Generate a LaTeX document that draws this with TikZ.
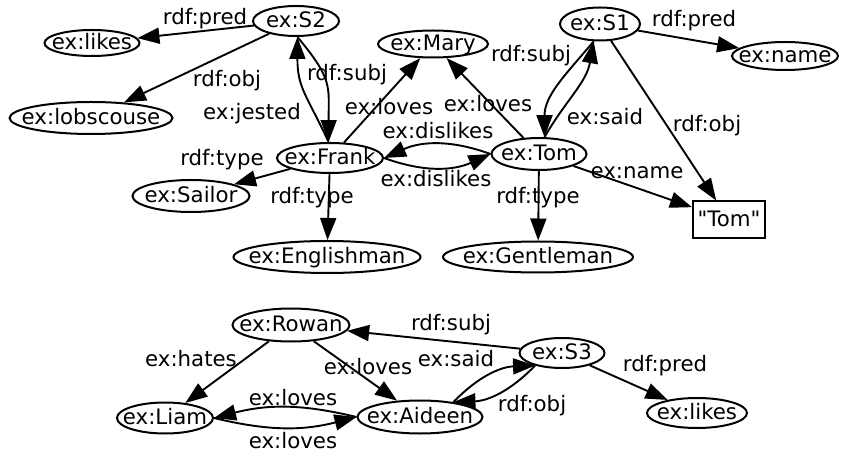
\documentclass[tikz,border=0pt]{standalone}
\usepackage{fontspec}
\setmainfont{DejaVu Sans}[Ligatures=TeXOff]
\usetikzlibrary{arrows.meta,shapes.geometric}

\begin{document}
\begin{tikzpicture}[x=1pt, y=1pt,
    every node/.style={font=\fontsize{21.3}{25}\selectfont, text height=17pt, text depth=3.2pt},
    res/.style={ellipse, draw, line width=2pt, inner sep=-60pt},
    lit/.style={rectangle, draw, line width=2pt, inner sep=0pt, minimum width=72pt, minimum height=37pt},
    rel/.style={-{Triangle[length=22pt,width=16pt]}, line width=1.9pt},
    lbl/.style={inner sep=0pt}]
  \useasboundingbox (0,0) rectangle (842,455);

  % resources: name / x / y / width / height / text
  \foreach \nm/\x/\y/\w/\h/\txt in {
      s2/296/434/86/30/ex:S2, likesA/92/412/95/26/ex:likes,
      lobscouse/91/337/163/32/ex:lobscouse, mary/433/411/110/27/ex:Mary,
      s1/600/431/80/33/ex:S1, name/785/399/106/28/ex:name,
      frank/330/297/106/30/ex:Frank, tom/539/301/95/32/ex:Tom,
      sailor/191/259/117/32/ex:Sailor, englishman/327/198/187/32/ex:Englishman,
      gentleman/538/198/190/31/ex:Gentleman,
      rowan/291/130/117/33/ex:Rowan, liam/165/37/96/31/ex:Liam,
      aideen/420/38/125/33/ex:Aideen, s3/562/102/85/30/ex:S3,
      likesB/697/42/100/30/ex:likes}{
    \node[res, minimum width=\w pt, minimum height=\h pt] (\nm) at (\x,\y) {\txt};
  }
  \node[lit] (tomlit) at (729,235) {"Tom"};

  % upper graph
  \draw[rel] (s2) -- (likesA) node[lbl] (l-s2pred) at (205,437) {rdf:pred};
  \draw[rel] (s2) -- (lobscouse) node[lbl] (l-s2obj) at (227,375) {rdf:obj};
  \draw[rel] (s2.275) to[out=-50, in=90, looseness=1.3] (frank.95)
    node[lbl] (l-s2subj) at (347,381) {rdf:subj};
  \draw[rel] (frank.95) to[out=115, in=-90, looseness=1.2] (s2.275)
    node[lbl] (l-jested) at (252,342) {ex:jested};
  \draw[rel] (frank) -- (mary) node[lbl] (l-floves) at (389,347) {ex:loves};
  \draw[rel] (tom) -- (mary) node[lbl] (l-tloves) at (488,350) {ex:loves};
  \draw[rel] (tom.west) to[bend right=22] (frank.east)
    node[lbl] (l-tdislikes) at (438,323) {ex:dislikes};
  \draw[rel] (frank.east) to[bend right=22] (tom.west)
    node[lbl] (l-fdislikes) at (436,275) {ex:dislikes};
  \draw[rel] (s1.250) to[out=-130, in=90] (tom.72)
    node[lbl] (l-s1subj) at (531,400) {rdf:subj};
  \draw[rel] (tom.72) to[out=60, in=-100] (s1.250)
    node[lbl] (l-said) at (605,337) {ex:said};
  \draw[rel] (s1) -- (name) node[lbl] (l-s1pred) at (694,435) {rdf:pred};
  \draw[rel] (s1) -- (tomlit) node[lbl] (l-s1obj) at (707,330) {rdf:obj};
  \draw[rel] (tom) -- (tomlit) node[lbl] (l-name) at (637,283) {ex:name};
  \draw[rel] (frank) -- (sailor) node[lbl] (l-ftype) at (222,296) {rdf:type};
  \draw[rel] (frank) -- (englishman) node[lbl] (l-fetype) at (312,258) {rdf:type};
  \draw[rel] (tom) -- (gentleman) node[lbl] (l-ttype) at (538,258) {rdf:type};

  % lower graph
  \draw[rel] (s3) -- (rowan) node[lbl] (l-s3subj) at (451,131) {rdf:subj};
  \draw[rel] (rowan) -- (liam) node[lbl] (l-hates) at (191,95) {ex:hates};
  \draw[rel] (rowan) -- (aideen) node[lbl] (l-rloves) at (368,87) {ex:loves};
  \draw[rel] (aideen.24) to[bend left=22] (s3.205)
    node[lbl] (l-asaid) at (456,95) {ex:said};
  \draw[rel] (s3.205) to[bend left=22] (aideen.24)
    node[lbl] (l-s3obj) at (532,50) {rdf:obj};
  \draw[rel] (s3) -- (likesB) node[lbl] (l-s3pred) at (665,90) {rdf:pred};
  \draw[rel] (aideen.west) to[bend right=14] (liam.east)
    node[lbl] (l-aloves) at (293,56) {ex:loves};
  \draw[rel] (liam.east) to[bend right=14] (aideen.west)
    node[lbl] (l-lloves) at (293,13) {ex:loves};
\end{tikzpicture}
\end{document}
